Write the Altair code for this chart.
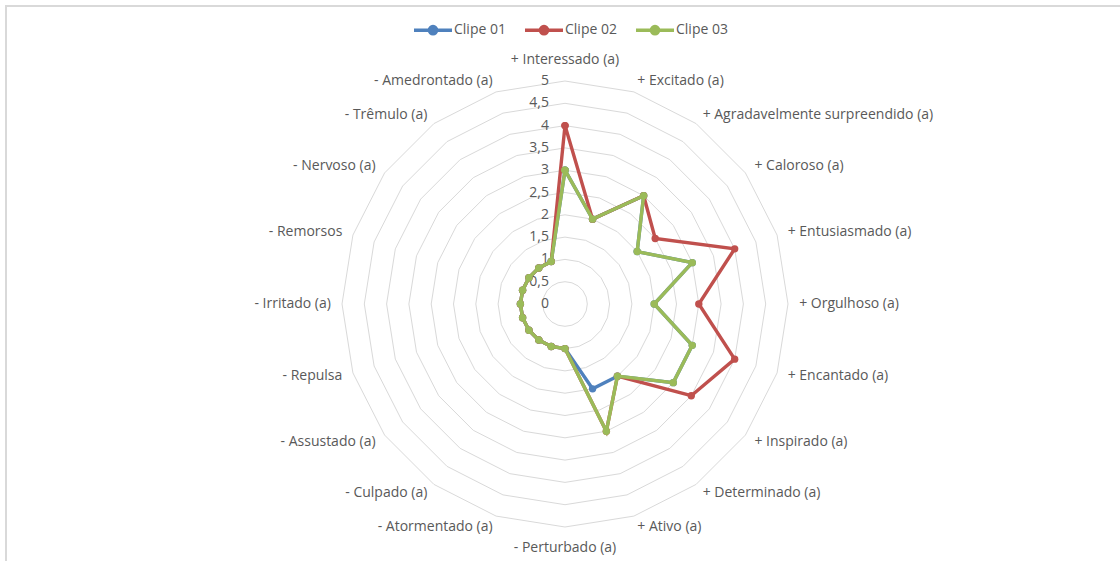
import altair as alt
import pandas as pd
import numpy as np

# ---------------- data ----------------
categories = [
    "+ Interessado (a)", "+ Excitado (a)", "+ Agradavelmente surpreendido (a)",
    "+ Caloroso (a)", "+ Entusiasmado (a)", "+ Orgulhoso (a)", "+ Encantado (a)",
    "+ Inspirado (a)", "+ Determinado (a)", "+ Ativo (a)", "-  Perturbado (a)",
    "- Atormentado (a)", "- Culpado (a)", "- Assustado (a)", "- Repulsa",
    "- Irritado (a)", "- Remorsos", "- Nervoso (a)", "- Trêmulo (a)",
    "- Amedrontado (a)",
]
clip01 = [3, 2, 3, 2, 3, 2, 3, 3, 2, 2, 1, 1, 1, 1, 1, 1, 1, 1, 1, 1]
clip02 = [4, 2, 3, 2.5, 4, 3, 4, 3.5, 2, 3, 1, 1, 1, 1, 1, 1, 1, 1, 1, 1]
clip03 = [3, 2, 3, 2, 3, 2, 3, 3, 2, 3, 1, 1, 1, 1, 1, 1, 1, 1, 1, 1]
series_names = ["Clipe 01", "Clipe 02", "Clipe 03"]
series_colors = ["#4F81BD", "#C0504D", "#9BBB59"]
tick_values = [0, 0.5, 1, 1.5, 2, 2.5, 3, 3.5, 4, 4.5, 5]
tick_labels = ["0", "0,5", "1", "1,5", "2", "2,5", "3", "3,5", "4", "4,5", "5"]

# ---------------- geometry ----------------
W, H = 1120, 561
CX, CY, K = 565, 304, 44.6
xdom = [-CX / K, (W - CX) / K]
ydom = [-(H - CY) / K, CY / K]
n = len(categories)
step = 2 * np.pi / n

rows = []
for name, vals in zip(series_names, [clip01, clip02, clip03]):
    for i in range(n + 1):
        j = i % n
        a = j * step
        rows.append(dict(series=name, order=i, cat=categories[j], value=vals[j],
                         x=vals[j] * np.sin(a), y=vals[j] * np.cos(a)))
series_df = pd.DataFrame(rows)

grid_rows = []
for r in tick_values[1:]:
    for i in range(n + 1):
        a = (i % n) * step
        grid_rows.append(dict(ring=r, order=i, x=r * np.sin(a), y=r * np.cos(a)))
grid_df = pd.DataFrame(grid_rows)

tick_df = pd.DataFrame({"x": [0.0] * len(tick_values), "y": tick_values, "label": tick_labels})

lab_rows = []
for j, c in enumerate(categories):
    a = j * step
    s, co = np.sin(a), np.cos(a)
    if abs(s) < 0.01:
        pos = "top" if co > 0 else "bottom"
        rl = 5.47
    else:
        pos = "left" if s > 0 else "right"
        rl = 5.25
    lab_rows.append(dict(cat=c, pos=pos, x=rl * s, y=rl * co))
lab_df = pd.DataFrame(lab_rows)

# ---------------- encodings ----------------
xs = alt.Scale(domain=xdom, nice=False, zero=False)
ys = alt.Scale(domain=ydom, nice=False, zero=False)
X = alt.X("x:Q", scale=xs, axis=None)
Y = alt.Y("y:Q", scale=ys, axis=None)

FONT = "Open Sans"
FS = 14
TXT = "#595959"

legend = alt.Legend(
    title=None, orient="none", direction="horizontal",
    legendX=412, legendY=9,
    symbolType="M-1,0L1,0M-0.19,0A0.19,0.19,0,1,0,0.19,0A0.19,0.19,0,1,0,-0.19,0Z",
    symbolSize=1444, symbolStrokeWidth=3.5, symbolOpacity=1,
    labelFont=FONT, labelFontSize=FS, labelColor=TXT, labelOffset=0,
    columnPadding=12,
)
color = alt.Color("series:N", scale=alt.Scale(domain=series_names, range=series_colors),
                  legend=legend)

grid = alt.Chart(grid_df).mark_line(color="#d9d9d9", strokeWidth=1).encode(
    x=X, y=Y, detail="ring:N", order="order:Q")

ticks = alt.Chart(tick_df).mark_text(align="right", baseline="middle", dx=-16,
                                     font=FONT, fontSize=FS, color=TXT).encode(
    x=X, y=Y, text="label:N")

label_layers = []
for pos, al, bl in [("left", "left", "middle"), ("right", "right", "middle"),
                    ("top", "center", "middle"), ("bottom", "center", "middle")]:
    label_layers.append(
        alt.Chart(lab_df).transform_filter(alt.datum.pos == pos).mark_text(
            align=al, baseline=bl, font=FONT, fontSize=FS, color=TXT).encode(
            x=X, y=Y, text="cat:N"))

series_layers = []
for name in series_names:
    base = alt.Chart(series_df).transform_filter(alt.datum.series == name)
    series_layers.append(base.mark_line(strokeWidth=3.4).encode(
        x=X, y=Y, color=color, order="order:Q"))
    series_layers.append(base.mark_point(filled=True, size=55, opacity=1).encode(
        x=X, y=Y, color=color))

dummy = pd.DataFrame({"a": [0]})
frame_v = alt.Chart(dummy).mark_rule(color="#d9d9d9", strokeWidth=2).encode(
    x=alt.value(6), y=alt.value(5), y2=alt.value(H))
frame_h = alt.Chart(dummy).mark_rule(color="#d9d9d9", strokeWidth=2).encode(
    y=alt.value(6), x=alt.value(5), x2=alt.value(W))

chart = alt.layer(frame_v, frame_h, grid, ticks, *label_layers, *series_layers).properties(
    width=W, height=H, padding=0, autosize="none", background="white"
).configure_view(stroke=None)

chart.save("out.html", embed_options={"renderer": "svg", "actions": False})
